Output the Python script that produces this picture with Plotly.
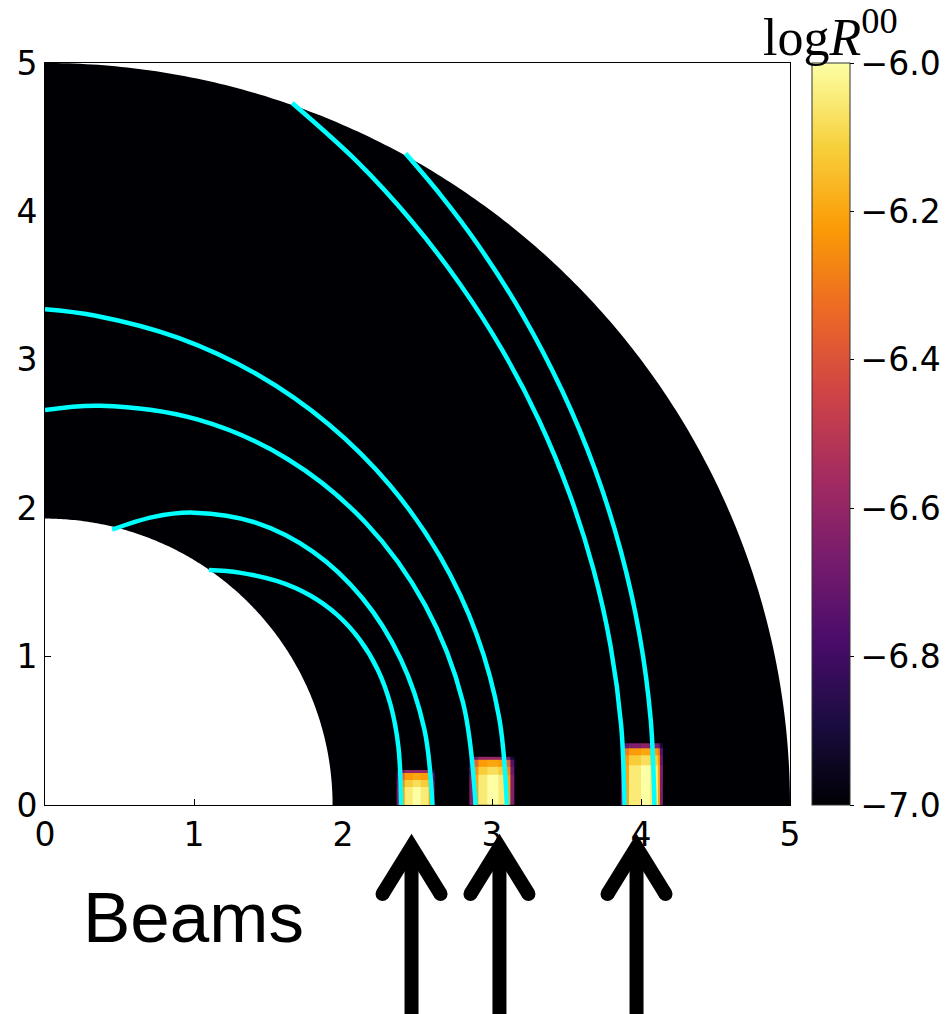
import numpy as np
import plotly.graph_objects as go

W, H = 949, 1014

# ---------------- data ----------------
Z_MIN, Z_MAX = -7.0, -6.0
cbar_ticks = [-7.0, -6.8, -6.6, -6.4, -6.2, -6.0]
axis_ticks = [0, 1, 2, 3, 4, 5]

R_INNER = 1.93
R_OUTER = 5.0

# beam intensity patches (log R^00), rows bottom -> top
beam1_x = [2.36, 2.383, 2.416, 2.47, 2.52, 2.573, 2.595, 2.617]
beam1_y = [0.0, 0.123, 0.168, 0.214, 0.236]
beam1_z = [
    [-6.65, -6.20, -6.05, -6.00, -6.05, -6.20, -6.65],
    [-6.70, -6.25, -6.12, -6.08, -6.12, -6.25, -6.70],
    [-6.75, -6.35, -6.22, -6.20, -6.22, -6.35, -6.75],
    [-6.90, -6.70, -6.60, -6.60, -6.60, -6.70, -6.90],
]

beam2_x = [2.848, 2.875, 2.908, 2.97, 3.04, 3.099, 3.12, 3.148]
beam2_y = [0.0, 0.202, 0.258, 0.303, 0.325]
beam2_z = [
    [-6.65, -6.20, -6.05, -6.00, -6.05, -6.20, -6.65],
    [-6.70, -6.25, -6.12, -6.08, -6.12, -6.25, -6.70],
    [-6.75, -6.35, -6.22, -6.20, -6.22, -6.35, -6.75],
    [-6.90, -6.70, -6.60, -6.60, -6.60, -6.70, -6.90],
]

beam3_x = [3.865, 3.89, 3.92, 4.0, 4.06, 4.11, 4.13, 4.15]
beam3_y = [0.0, 0.27, 0.337, 0.382, 0.416]
beam3_z = [
    [-6.65, -6.20, -6.05, -6.00, -6.05, -6.20, -6.65],
    [-6.70, -6.22, -6.12, -6.08, -6.12, -6.22, -6.70],
    [-6.75, -6.30, -6.22, -6.20, -6.22, -6.30, -6.75],
    [-6.90, -6.70, -6.65, -6.62, -6.65, -6.70, -6.90],
]

# ray paths (cyan)
ray_a_x = [2.390, 2.372, 2.320, 2.234, 2.113, 1.961, 1.777, 1.560, 1.305, 1.100]
ray_a_y = [0.000, 0.391, 0.672, 0.910, 1.113, 1.281, 1.413, 1.508, 1.566, 1.583]

ray_b_x = [2.600, 2.546, 2.386, 2.131, 1.800, 1.414, 1.000, 0.722, 0.450]
ray_b_y = [0.000, 0.510, 0.985, 1.393, 1.706, 1.903, 1.970, 1.940, 1.855]

ray_c_x = [2.890, 2.804, 2.552, 2.152, 1.630, 1.022, 0.370, 0.000]
ray_c_y = [0.000, 0.696, 1.345, 1.902, 2.330, 2.598, 2.690, 2.661]

ray_d_x = [3.100, 3.049, 2.898, 2.651, 2.316, 1.903, 1.425, 0.896, 0.332, 0.000]
ray_d_y = [0.000, 0.582, 1.146, 1.675, 2.153, 2.566, 2.901, 3.148, 3.299, 3.341]

ray_e_x = [3.890, 3.867, 3.797, 3.681, 3.520, 3.316, 3.069, 2.781, 2.456, 2.095, 1.659]
ray_e_y = [0.000, 0.534, 1.064, 1.587, 2.097, 2.591, 3.065, 3.516, 3.940, 4.335, 4.730]

ray_f_x = [4.090, 4.065, 3.990, 3.865, 3.692, 3.471, 3.205, 2.896, 2.654, 2.420]
ray_f_y = [0.000, 0.576, 1.147, 1.709, 2.259, 2.791, 3.303, 3.789, 4.112, 4.390]

# beam arrow positions (data x)
arrow_x = [2.46, 3.05, 3.97]

# ---------------- layout geometry ----------------
XDOM = [45 / W, 790 / W]
YDOM = [1 - 805 / H, 1 - 63 / H]

fig = go.Figure()

for bx, by, bz in [(beam1_x, beam1_y, beam1_z),
                   (beam2_x, beam2_y, beam2_z),
                   (beam3_x, beam3_y, beam3_z)]:
    fig.add_trace(go.Heatmap(x=bx, y=by, z=bz, coloraxis="coloraxis",
                             hoverinfo="skip", zsmooth=False))

for rx, ry in [(ray_a_x, ray_a_y), (ray_b_x, ray_b_y), (ray_c_x, ray_c_y),
               (ray_d_x, ray_d_y), (ray_e_x, ray_e_y), (ray_f_x, ray_f_y)]:
    fig.add_trace(go.Scatter(x=rx, y=ry, mode="lines",
                             line=dict(color="#00FFFF", width=4.5, shape="spline", smoothing=1.0),
                             showlegend=False, hoverinfo="skip"))

# black annulus background (value below colour range)
th = np.linspace(0, np.pi / 2, 200)
outer = [(R_OUTER * np.cos(t), R_OUTER * np.sin(t)) for t in th]
inner = [(R_INNER * np.cos(t), R_INNER * np.sin(t)) for t in th[::-1]]
pts = outer + inner
path = "M " + " L ".join(f"{x:.4f},{y:.4f}" for x, y in pts) + " Z"
shapes = [dict(type="path", path=path, xref="x", yref="y", layer="below",
               fillcolor="#000004", line=dict(width=0))]

# arrows
def px_x(xd):
    return XDOM[0] + xd / 5.0 * (XDOM[1] - XDOM[0])

def py(p):
    return 1 - p / H

apex_py, wing_py, half_w = 847, 894, 29 / W
for xa in arrow_x:
    xp = px_x(xa)
    shapes.append(dict(type="path", xref="paper", yref="paper",
                       path=f"M {xp - half_w},{py(wing_py)} L {xp},{py(apex_py)} L {xp + half_w},{py(wing_py)}",
                       line=dict(color="black", width=14), fillcolor="rgba(0,0,0,0)"))
    shapes.append(dict(type="line", xref="paper", yref="paper",
                       x0=xp, x1=xp, y0=py(850), y1=py(1030),
                       line=dict(color="black", width=14)))
    for s in (-1, 1):
        cx, cy = xp + s * half_w, py(wing_py)
        r = 7
        shapes.append(dict(type="circle", xref="paper", yref="paper",
                           x0=cx - r / W, x1=cx + r / W, y0=cy - r / H, y1=cy + r / H,
                           fillcolor="black", line=dict(width=0)))

tickfont = dict(family="DejaVu Sans", size=33, color="black")

fig.update_layout(
    width=W, height=H,
    margin=dict(l=0, r=0, t=0, b=0),
    paper_bgcolor="white", plot_bgcolor="white",
    showlegend=False,
    shapes=shapes,
    xaxis=dict(domain=XDOM, range=[0, 5], tickvals=axis_ticks, ticks="inside",
               ticklen=6, tickwidth=1, tickcolor="black", showgrid=False, zeroline=False,
               showline=True, linecolor="black", linewidth=1, mirror=True,
               tickfont=tickfont, automargin=False),
    yaxis=dict(domain=YDOM, range=[0, 5], tickvals=axis_ticks, ticks="inside",
               ticklen=6, tickwidth=1, tickcolor="black", showgrid=False, zeroline=False,
               showline=True, linecolor="black", linewidth=1, mirror=True,
               tickfont=tickfont, automargin=False),
    coloraxis=dict(
        colorscale="Inferno", cmin=Z_MIN, cmax=Z_MAX,
        colorbar=dict(x=812 / W, xanchor="left", xpad=0, ypad=0,
                      y=1 - 434 / H, yanchor="middle", len=742 / H, lenmode="fraction",
                      thickness=38, thicknessmode="pixels",
                      tickvals=cbar_ticks, tickformat=".1f", ticks="outside",
                      ticklen=4, tickcolor="black", tickfont=tickfont,
                      outlinewidth=1, outlinecolor="#333")),
    annotations=[
        dict(text="log<i>R</i><sup>00</sup>", xref="paper", yref="paper",
             x=830 / W, y=1 - 33 / H, xanchor="center", yanchor="middle",
             showarrow=False, font=dict(family="Liberation Serif", size=52, color="black")),
        dict(text="Beams", xref="paper", yref="paper",
             x=193 / W, y=1 - 917 / H, xanchor="center", yanchor="middle",
             showarrow=False, font=dict(family="Liberation Sans", size=71, color="black")),
    ],
)

fig.write_html("out.html")
